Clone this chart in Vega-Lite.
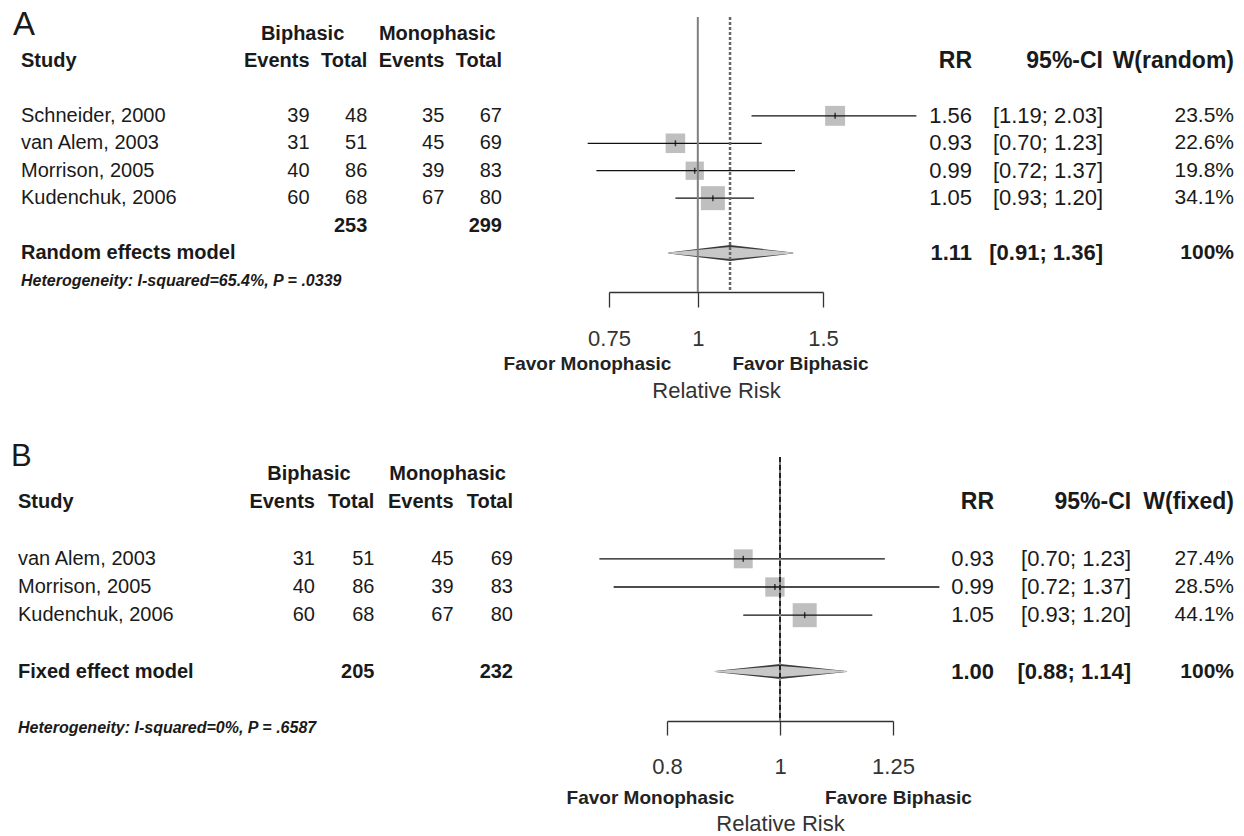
{
"$schema": "https://vega.github.io/schema/vega-lite/v6.json",
"autosize": {"type": "pad"},
"padding": {"left": 0, "top": 8, "right": 0, "bottom": 0},
"background": "white",
"bounds": "flush",
"spacing": 165,
"config": {"view": {"stroke": null}, "font": "Liberation Sans", "text": {"font": "Liberation Sans"}, "axis": {"grid": false, "labelFont": "Liberation Sans", "titleFont": "Liberation Sans"}},
"datasets": {
"A": [
{"study": "Schneider, 2000", "kind": "study", "bE": 39, "bT": 48, "mE": 35, "mT": 67, "rr": 1.56, "lo": 1.19, "hi": 2.03, "ci": "[1.19; 2.03]", "w": 0.235},
{"study": "van Alem, 2003", "kind": "study", "bE": 31, "bT": 51, "mE": 45, "mT": 69, "rr": 0.93, "lo": 0.70, "hi": 1.23, "ci": "[0.70; 1.23]", "w": 0.226},
{"study": "Morrison, 2005", "kind": "study", "bE": 40, "bT": 86, "mE": 39, "mT": 83, "rr": 0.99, "lo": 0.72, "hi": 1.37, "ci": "[0.72; 1.37]", "w": 0.198},
{"study": "Kudenchuk, 2006", "kind": "study", "bE": 60, "bT": 68, "mE": 67, "mT": 80, "rr": 1.05, "lo": 0.93, "hi": 1.20, "ci": "[0.93; 1.20]", "w": 0.341},
{"study": "Random effects model", "kind": "pooled", "bT": 253, "mT": 299, "rr": 1.11, "lo": 0.91, "hi": 1.36, "ci": "[0.91; 1.36]", "w": 1, "het": "Heterogeneity: I-squared=65.4%, P = .0339"}
],
"Ahead": [
{"hrow": "h1", "letter": "A", "bE": "Biphasic", "mE": "Monophasic"},
{"hrow": "h2", "study": "Study", "bE": "Events", "bT": "Total", "mE": "Events", "mT": "Total", "rr": "RR", "ci": "95%-CI", "w": "W(random)"}
],
"B": [
{"study": "van Alem, 2003", "kind": "study", "bE": 31, "bT": 51, "mE": 45, "mT": 69, "rr": 0.93, "lo": 0.70, "hi": 1.23, "ci": "[0.70; 1.23]", "w": 0.274},
{"study": "Morrison, 2005", "kind": "study", "bE": 40, "bT": 86, "mE": 39, "mT": 83, "rr": 0.99, "lo": 0.72, "hi": 1.37, "ci": "[0.72; 1.37]", "w": 0.285},
{"study": "Kudenchuk, 2006", "kind": "study", "bE": 60, "bT": 68, "mE": 67, "mT": 80, "rr": 1.05, "lo": 0.93, "hi": 1.20, "ci": "[0.93; 1.20]", "w": 0.441},
{"study": "Fixed effect model", "kind": "pooled", "bT": 205, "mT": 232, "rr": 1.00, "lo": 0.88, "hi": 1.14, "ci": "[0.88; 1.14]", "w": 1, "het": "Heterogeneity: I-squared=0%, P = .6587"}
],
"Bhead": [
{"hrow": "h1", "letter": "B", "bE": "Biphasic", "mE": "Monophasic"},
{"hrow": "h2", "study": "Study", "bE": "Events", "bT": "Total", "mE": "Events", "mT": "Total", "rr": "RR", "ci": "95%-CI", "w": "W(fixed)"}
]
},
"vconcat": [
{
"width": 1244, "height": 275,
"resolve": {"scale": {"x": "independent", "size": "independent"}, "axis": {"x": "independent"}},
"layer": [
{"data": {"name": "A"}, "transform": [{"filter": "datum.kind === 'study'"}],
 "mark": {"type": "square", "filled": true, "color": "#bfbfbf", "opacity": 1},
 "encoding": {
  "x": {"field": "rr", "type": "quantitative", "scale": {"type": "log", "domain": [0.75, 1.5], "range": [609, 823], "nice": false}, "axis": null},
  "y": {"field": "study", "type": "nominal", "scale": {"type": "point", "padding": 0, "domain": ["h1","h2","gap","Schneider, 2000","van Alem, 2003","Morrison, 2005","Kudenchuk, 2006","total","Random effects model","het"], "range": [16.5, 263.5]}, "axis": null},
  "size": {"field": "w", "type": "quantitative", "scale": {"domain": [0, 0.341], "range": [0, 576]}, "legend": null}}},
{"data": {"name": "A"}, "transform": [{"filter": "datum.kind === 'study'"}],
 "mark": {"type": "rule", "color": "#111111", "strokeWidth": 1.3},
 "encoding": {
  "x": {"field": "lo", "type": "quantitative", "scale": {"type": "log", "domain": [0.75, 1.5], "range": [609, 823], "nice": false},
        "axis": {"orient": "bottom", "values": [0.75, 1, 1.5], "format": "~g", "tickSize": 15, "tickWidth": 1.3, "tickColor": "#333333", "domainColor": "#333333", "domainWidth": 1.3, "labelFontSize": 22, "labelColor": "#333333", "labelPadding": 21, "labelFlush": false, "labelOverlap": false, "title": "Relative Risk", "titleFontSize": 22, "titleFontWeight": "normal", "titleColor": "#333333", "titlePadding": 31, "grid": false}},
  "x2": {"field": "hi"},
  "y": {"field": "study", "type": "nominal", "scale": {"type": "point", "padding": 0, "domain": ["h1","h2","gap","Schneider, 2000","van Alem, 2003","Morrison, 2005","Kudenchuk, 2006","total","Random effects model","het"], "range": [16.5, 263.5]}, "axis": null}}},
{"data": {"name": "A"}, "transform": [{"filter": "datum.kind === 'study'"}],
 "mark": {"type": "tick", "color": "#000000", "size": 6, "thickness": 1.5, "orient": "vertical"},
 "encoding": {
  "x": {"field": "rr", "type": "quantitative", "scale": {"type": "log", "domain": [0.75, 1.5], "range": [609, 823], "nice": false}, "axis": null},
  "y": {"field": "study", "type": "nominal", "scale": {"type": "point", "padding": 0, "domain": ["h1","h2","gap","Schneider, 2000","van Alem, 2003","Morrison, 2005","Kudenchuk, 2006","total","Random effects model","het"], "range": [16.5, 263.5]}, "axis": null}}},
{"data": {"name": "A"}, "transform": [{"filter": "datum.kind === 'pooled'"}, {"fold": ["lo", "rr", "hi"], "as": ["dk", "dv"]}],
 "mark": {"type": "trail", "color": "#3a3a3a"},
 "encoding": {
  "x": {"field": "dv", "type": "quantitative", "scale": {"type": "log", "domain": [0.75, 1.5], "range": [609, 823], "nice": false}, "axis": null},
  "y": {"field": "study", "type": "nominal", "scale": {"type": "point", "padding": 0, "domain": ["h1","h2","gap","Schneider, 2000","van Alem, 2003","Morrison, 2005","Kudenchuk, 2006","total","Random effects model","het"], "range": [16.5, 263.5]}, "axis": null},
  "order": {"field": "dv", "type": "quantitative"},
  "size": {"condition": {"test": "datum.dk === 'rr'", "value": 16}, "value": 0}}},
{"data": {"name": "A"}, "transform": [{"filter": "datum.kind === 'pooled'"}, {"fold": ["lo", "rr", "hi"], "as": ["dk", "dv"]}],
 "mark": {"type": "trail", "color": "#c8c8c8"},
 "encoding": {
  "x": {"field": "dv", "type": "quantitative", "scale": {"type": "log", "domain": [0.75, 1.5], "range": [609, 823], "nice": false}, "axis": null},
  "y": {"field": "study", "type": "nominal", "scale": {"type": "point", "padding": 0, "domain": ["h1","h2","gap","Schneider, 2000","van Alem, 2003","Morrison, 2005","Kudenchuk, 2006","total","Random effects model","het"], "range": [16.5, 263.5]}, "axis": null},
  "order": {"field": "dv", "type": "quantitative"},
  "size": {"condition": {"test": "datum.dk === 'rr'", "value": 12}, "value": 0}}},
{"data": {"name": "A"}, "transform": [{"filter": "datum.kind === 'pooled'"}],
 "mark": {"type": "rule", "color": "#808080", "strokeWidth": 2},
 "encoding": {"x": {"datum": 1, "type": "quantitative", "scale": {"type": "log", "domain": [0.75, 1.5], "range": [609, 823], "nice": false}, "axis": null}}},
{"data": {"name": "A"}, "transform": [{"filter": "datum.kind === 'pooled'"}],
 "mark": {"type": "rule", "color": "#666666", "strokeWidth": 2.5, "strokeDash": [3, 2]},
 "encoding": {"x": {"field": "rr", "type": "quantitative", "scale": {"type": "log", "domain": [0.75, 1.5], "range": [609, 823], "nice": false}, "axis": null}}},
{"data": {"values": [{"favor": "Favor Monophasic"}, {"favor": "Favor Biphasic"}]},
 "mark": {"type": "text", "text": ""},
 "encoding": {"x": {"field": "favor", "type": "nominal", "scale": {"type": "point", "padding": 0, "domain": ["Favor Monophasic", "Favor Biphasic"], "range": [587, 800]},
   "axis": {"orient": "bottom", "ticks": false, "domain": false, "tickSize": 0, "labelPadding": 62.6, "labelFontSize": 19, "labelFontWeight": "bold", "labelColor": "#222222", "labelAngle": 0, "title": null, "grid": false}}}},
{"data": {"name": "A"}, "transform": [{"filter": "datum.kind === 'study'"}],
 "mark": {"type": "text", "align": "left", "baseline": "middle", "fontSize": 20, "color": "#1a1a1a"},
 "encoding": {
  "x": {"datum": "study", "type": "nominal", "scale": {"type": "point", "padding": 0, "domain": ["study","s1","s2","s3","s4","s5","s6","s7","s8","s9","s10","s11","s12","s13","s14","bE","s16","s17","bT","s19","s20","s21","mE","s23","s24","mT"], "range": [21, 502]}, "axis": null},
  "y": {"field": "study", "type": "nominal", "scale": {"type": "point", "padding": 0, "domain": ["h1","h2","gap","Schneider, 2000","van Alem, 2003","Morrison, 2005","Kudenchuk, 2006","total","Random effects model","het"], "range": [16.5, 263.5]}, "axis": null},
  "text": {"field": "study", "type": "nominal"}}},
{"data": {"name": "A"}, "transform": [{"filter": "datum.kind === 'pooled'"}],
 "mark": {"type": "text", "align": "left", "baseline": "middle", "fontSize": 20, "fontWeight": "bold", "color": "#1a1a1a"},
 "encoding": {
  "x": {"datum": "study", "type": "nominal", "scale": {"type": "point", "padding": 0, "domain": ["study","s1","s2","s3","s4","s5","s6","s7","s8","s9","s10","s11","s12","s13","s14","bE","s16","s17","bT","s19","s20","s21","mE","s23","s24","mT"], "range": [21, 502]}, "axis": null},
  "y": {"field": "study", "type": "nominal", "scale": {"type": "point", "padding": 0, "domain": ["h1","h2","gap","Schneider, 2000","van Alem, 2003","Morrison, 2005","Kudenchuk, 2006","total","Random effects model","het"], "range": [16.5, 263.5]}, "axis": null},
  "text": {"field": "study", "type": "nominal"}}},
{"data": {"name": "A"}, "transform": [{"filter": "datum.kind === 'pooled'"}],
 "mark": {"type": "text", "align": "left", "baseline": "middle", "fontSize": 16, "fontWeight": "bold", "fontStyle": "italic", "color": "#1a1a1a"},
 "encoding": {
  "x": {"datum": "study", "type": "nominal", "scale": {"type": "point", "padding": 0, "domain": ["study","s1","s2","s3","s4","s5","s6","s7","s8","s9","s10","s11","s12","s13","s14","bE","s16","s17","bT","s19","s20","s21","mE","s23","s24","mT"], "range": [21, 502]}, "axis": null},
  "y": {"datum": "het", "type": "nominal", "scale": {"type": "point", "padding": 0, "domain": ["h1","h2","gap","Schneider, 2000","van Alem, 2003","Morrison, 2005","Kudenchuk, 2006","total","Random effects model","het"], "range": [16.5, 263.5]}, "axis": null},
  "text": {"field": "het", "type": "nominal"}}},
{"data": {"name": "A"}, "transform": [{"filter": "datum.kind === 'study'"}, {"fold": ["bE", "bT", "mE", "mT"], "as": ["col", "val"]}],
 "mark": {"type": "text", "align": "right", "baseline": "middle", "fontSize": 20, "color": "#1a1a1a"},
 "encoding": {
  "x": {"field": "col", "type": "nominal", "scale": {"type": "point", "padding": 0, "domain": ["study","s1","s2","s3","s4","s5","s6","s7","s8","s9","s10","s11","s12","s13","s14","bE","s16","s17","bT","s19","s20","s21","mE","s23","s24","mT"], "range": [21, 502]}, "axis": null},
  "y": {"field": "study", "type": "nominal", "scale": {"type": "point", "padding": 0, "domain": ["h1","h2","gap","Schneider, 2000","van Alem, 2003","Morrison, 2005","Kudenchuk, 2006","total","Random effects model","het"], "range": [16.5, 263.5]}, "axis": null},
  "text": {"field": "val", "type": "nominal"}}},
{"data": {"name": "A"}, "transform": [{"filter": "datum.kind === 'pooled'"}, {"fold": ["bT", "mT"], "as": ["col", "val"]}],
 "mark": {"type": "text", "align": "right", "baseline": "middle", "fontSize": 20, "fontWeight": "bold", "color": "#1a1a1a"},
 "encoding": {
  "x": {"field": "col", "type": "nominal", "scale": {"type": "point", "padding": 0, "domain": ["study","s1","s2","s3","s4","s5","s6","s7","s8","s9","s10","s11","s12","s13","s14","bE","s16","s17","bT","s19","s20","s21","mE","s23","s24","mT"], "range": [21, 502]}, "axis": null},
  "y": {"datum": "total", "type": "nominal", "scale": {"type": "point", "padding": 0, "domain": ["h1","h2","gap","Schneider, 2000","van Alem, 2003","Morrison, 2005","Kudenchuk, 2006","total","Random effects model","het"], "range": [16.5, 263.5]}, "axis": null},
  "text": {"field": "val", "type": "nominal"}}},
{"data": {"name": "A"}, "transform": [{"filter": "datum.kind === 'study'"}],
 "mark": {"type": "text", "align": "right", "baseline": "middle", "fontSize": 22, "color": "#1a1a1a"},
 "encoding": {
  "x": {"datum": "rr", "type": "nominal", "scale": {"type": "point", "padding": 0, "domain": ["rr", "ci", "w"], "range": [972, 1234]}, "axis": null},
  "y": {"field": "study", "type": "nominal", "scale": {"type": "point", "padding": 0, "domain": ["h1","h2","gap","Schneider, 2000","van Alem, 2003","Morrison, 2005","Kudenchuk, 2006","total","Random effects model","het"], "range": [16.5, 263.5]}, "axis": null},
  "text": {"field": "rr", "type": "quantitative", "format": ".2f"}}},
{"data": {"name": "A"}, "transform": [{"filter": "datum.kind === 'study'"}],
 "mark": {"type": "text", "align": "right", "baseline": "middle", "fontSize": 22, "color": "#1a1a1a"},
 "encoding": {
  "x": {"datum": "ci", "type": "nominal", "scale": {"type": "point", "padding": 0, "domain": ["rr", "ci", "w"], "range": [972, 1234]}, "axis": null},
  "y": {"field": "study", "type": "nominal", "scale": {"type": "point", "padding": 0, "domain": ["h1","h2","gap","Schneider, 2000","van Alem, 2003","Morrison, 2005","Kudenchuk, 2006","total","Random effects model","het"], "range": [16.5, 263.5]}, "axis": null},
  "text": {"field": "ci", "type": "nominal"}}},
{"data": {"name": "A"}, "transform": [{"filter": "datum.kind === 'study'"}],
 "mark": {"type": "text", "align": "right", "baseline": "middle", "fontSize": 21, "color": "#1a1a1a"},
 "encoding": {
  "x": {"datum": "w", "type": "nominal", "scale": {"type": "point", "padding": 0, "domain": ["rr", "ci", "w"], "range": [972, 1234]}, "axis": null},
  "y": {"field": "study", "type": "nominal", "scale": {"type": "point", "padding": 0, "domain": ["h1","h2","gap","Schneider, 2000","van Alem, 2003","Morrison, 2005","Kudenchuk, 2006","total","Random effects model","het"], "range": [16.5, 263.5]}, "axis": null},
  "text": {"field": "w", "type": "quantitative", "format": ".1~%"}}},
{"data": {"name": "A"}, "transform": [{"filter": "datum.kind === 'pooled'"}],
 "mark": {"type": "text", "align": "right", "baseline": "middle", "fontSize": 22, "fontWeight": "bold", "color": "#1a1a1a"},
 "encoding": {
  "x": {"datum": "rr", "type": "nominal", "scale": {"type": "point", "padding": 0, "domain": ["rr", "ci", "w"], "range": [972, 1234]}, "axis": null},
  "y": {"field": "study", "type": "nominal", "scale": {"type": "point", "padding": 0, "domain": ["h1","h2","gap","Schneider, 2000","van Alem, 2003","Morrison, 2005","Kudenchuk, 2006","total","Random effects model","het"], "range": [16.5, 263.5]}, "axis": null},
  "text": {"field": "rr", "type": "quantitative", "format": ".2f"}}},
{"data": {"name": "A"}, "transform": [{"filter": "datum.kind === 'pooled'"}],
 "mark": {"type": "text", "align": "right", "baseline": "middle", "fontSize": 22, "fontWeight": "bold", "color": "#1a1a1a"},
 "encoding": {
  "x": {"datum": "ci", "type": "nominal", "scale": {"type": "point", "padding": 0, "domain": ["rr", "ci", "w"], "range": [972, 1234]}, "axis": null},
  "y": {"field": "study", "type": "nominal", "scale": {"type": "point", "padding": 0, "domain": ["h1","h2","gap","Schneider, 2000","van Alem, 2003","Morrison, 2005","Kudenchuk, 2006","total","Random effects model","het"], "range": [16.5, 263.5]}, "axis": null},
  "text": {"field": "ci", "type": "nominal"}}},
{"data": {"name": "A"}, "transform": [{"filter": "datum.kind === 'pooled'"}],
 "mark": {"type": "text", "align": "right", "baseline": "middle", "fontSize": 21, "fontWeight": "bold", "color": "#1a1a1a"},
 "encoding": {
  "x": {"datum": "w", "type": "nominal", "scale": {"type": "point", "padding": 0, "domain": ["rr", "ci", "w"], "range": [972, 1234]}, "axis": null},
  "y": {"field": "study", "type": "nominal", "scale": {"type": "point", "padding": 0, "domain": ["h1","h2","gap","Schneider, 2000","van Alem, 2003","Morrison, 2005","Kudenchuk, 2006","total","Random effects model","het"], "range": [16.5, 263.5]}, "axis": null},
  "text": {"field": "w", "type": "quantitative", "format": ".1~%"}}},
{"data": {"name": "Ahead"}, "transform": [{"filter": "datum.hrow === 'h2'"}],
 "mark": {"type": "text", "align": "left", "baseline": "middle", "fontSize": 20, "fontWeight": "bold", "color": "#1a1a1a"},
 "encoding": {
  "x": {"datum": "study", "type": "nominal", "scale": {"type": "point", "padding": 0, "domain": ["study","s1","s2","s3","s4","s5","s6","s7","s8","s9","s10","s11","s12","s13","s14","bE","s16","s17","bT","s19","s20","s21","mE","s23","s24","mT"], "range": [21, 502]}, "axis": null},
  "y": {"field": "hrow", "type": "nominal", "scale": {"type": "point", "padding": 0, "domain": ["h1","h2","gap","Schneider, 2000","van Alem, 2003","Morrison, 2005","Kudenchuk, 2006","total","Random effects model","het"], "range": [16.5, 263.5]}, "axis": null},
  "text": {"field": "study", "type": "nominal"}}},
{"data": {"name": "Ahead"}, "transform": [{"filter": "datum.hrow === 'h2'"}, {"fold": ["bE", "bT", "mE", "mT"], "as": ["col", "val"]}],
 "mark": {"type": "text", "align": "right", "baseline": "middle", "fontSize": 20, "fontWeight": "bold", "color": "#1a1a1a"},
 "encoding": {
  "x": {"field": "col", "type": "nominal", "scale": {"type": "point", "padding": 0, "domain": ["study","s1","s2","s3","s4","s5","s6","s7","s8","s9","s10","s11","s12","s13","s14","bE","s16","s17","bT","s19","s20","s21","mE","s23","s24","mT"], "range": [21, 502]}, "axis": null},
  "y": {"field": "hrow", "type": "nominal", "scale": {"type": "point", "padding": 0, "domain": ["h1","h2","gap","Schneider, 2000","van Alem, 2003","Morrison, 2005","Kudenchuk, 2006","total","Random effects model","het"], "range": [16.5, 263.5]}, "axis": null},
  "text": {"field": "val", "type": "nominal"}}},
{"data": {"name": "Ahead"}, "transform": [{"filter": "datum.hrow === 'h2'"}, {"fold": ["rr", "ci", "w"], "as": ["col", "val"]}],
 "mark": {"type": "text", "align": "right", "baseline": "middle", "fontSize": 23, "fontWeight": "bold", "color": "#1a1a1a"},
 "encoding": {
  "x": {"field": "col", "type": "nominal", "scale": {"type": "point", "padding": 0, "domain": ["rr", "ci", "w"], "range": [972, 1234]}, "axis": null},
  "y": {"field": "hrow", "type": "nominal", "scale": {"type": "point", "padding": 0, "domain": ["h1","h2","gap","Schneider, 2000","van Alem, 2003","Morrison, 2005","Kudenchuk, 2006","total","Random effects model","het"], "range": [16.5, 263.5]}, "axis": null},
  "text": {"field": "val", "type": "nominal"}}},
{"data": {"name": "Ahead"}, "transform": [{"filter": "datum.hrow === 'h1'"}, {"fold": ["bE", "mE"], "as": ["col", "val"]}],
 "mark": {"type": "text", "align": "center", "baseline": "middle", "fontSize": 20, "fontWeight": "bold", "color": "#1a1a1a", "dx": -7},
 "encoding": {
  "x": {"field": "col", "type": "nominal", "scale": {"type": "point", "padding": 0, "domain": ["study","s1","s2","s3","s4","s5","s6","s7","s8","s9","s10","s11","s12","s13","s14","bE","s16","s17","bT","s19","s20","s21","mE","s23","s24","mT"], "range": [21, 502]}, "axis": null},
  "y": {"field": "hrow", "type": "nominal", "scale": {"type": "point", "padding": 0, "domain": ["h1","h2","gap","Schneider, 2000","van Alem, 2003","Morrison, 2005","Kudenchuk, 2006","total","Random effects model","het"], "range": [16.5, 263.5]}, "axis": null},
  "text": {"field": "val", "type": "nominal"}}},
{"data": {"name": "Ahead"}, "transform": [{"filter": "datum.hrow === 'h1'"}],
 "mark": {"type": "text", "align": "left", "baseline": "alphabetic", "fontSize": 33, "color": "#1a1a1a", "dx": -8, "dy": 1},
 "encoding": {
  "x": {"datum": "study", "type": "nominal", "scale": {"type": "point", "padding": 0, "domain": ["study","s1","s2","s3","s4","s5","s6","s7","s8","s9","s10","s11","s12","s13","s14","bE","s16","s17","bT","s19","s20","s21","mE","s23","s24","mT"], "range": [21, 502]}, "axis": null},
  "y": {"field": "hrow", "type": "nominal", "scale": {"type": "point", "padding": 0, "domain": ["h1","h2","gap","Schneider, 2000","van Alem, 2003","Morrison, 2005","Kudenchuk, 2006","total","Random effects model","het"], "range": [16.5, 263.5]}, "axis": null},
  "text": {"field": "letter", "type": "nominal"}}}
]
},
{
"width": 1244, "height": 264,
"resolve": {"scale": {"x": "independent", "size": "independent"}, "axis": {"x": "independent"}},
"layer": [
{"data": {"name": "B"}, "transform": [{"filter": "datum.kind === 'study'"}],
 "mark": {"type": "square", "filled": true, "color": "#bfbfbf", "opacity": 1},
 "encoding": {
  "x": {"field": "rr", "type": "quantitative", "scale": {"type": "log", "domain": [0.8, 1.25], "range": [667, 893], "nice": false}, "axis": null},
  "y": {"field": "study", "type": "nominal", "scale": {"type": "point", "padding": 0, "domain": ["h1","h2","gap1","van Alem, 2003","Morrison, 2005","Kudenchuk, 2006","gap2","Fixed effect model","gap3","het"], "range": [17.3, 270.9]}, "axis": null},
  "size": {"field": "w", "type": "quantitative", "scale": {"domain": [0, 0.441], "range": [0, 576]}, "legend": null}}},
{"data": {"name": "B"}, "transform": [{"filter": "datum.kind === 'study'"}],
 "mark": {"type": "rule", "color": "#111111", "strokeWidth": 1.3},
 "encoding": {
  "x": {"field": "lo", "type": "quantitative", "scale": {"type": "log", "domain": [0.8, 1.25], "range": [667, 893], "nice": false},
        "axis": {"orient": "bottom", "values": [0.8, 1, 1.25], "format": "~g", "tickSize": 14, "tickWidth": 1.3, "tickColor": "#333333", "domainColor": "#333333", "domainWidth": 1.3, "labelFontSize": 22, "labelColor": "#333333", "labelPadding": 21, "labelFlush": false, "labelOverlap": false, "title": "Relative Risk", "titleFontSize": 22, "titleFontWeight": "normal", "titleColor": "#333333", "titlePadding": 36, "grid": false}},
  "x2": {"field": "hi"},
  "y": {"field": "study", "type": "nominal", "scale": {"type": "point", "padding": 0, "domain": ["h1","h2","gap1","van Alem, 2003","Morrison, 2005","Kudenchuk, 2006","gap2","Fixed effect model","gap3","het"], "range": [17.3, 270.9]}, "axis": null}}},
{"data": {"name": "B"}, "transform": [{"filter": "datum.kind === 'study'"}],
 "mark": {"type": "tick", "color": "#000000", "size": 6, "thickness": 1.5, "orient": "vertical"},
 "encoding": {
  "x": {"field": "rr", "type": "quantitative", "scale": {"type": "log", "domain": [0.8, 1.25], "range": [667, 893], "nice": false}, "axis": null},
  "y": {"field": "study", "type": "nominal", "scale": {"type": "point", "padding": 0, "domain": ["h1","h2","gap1","van Alem, 2003","Morrison, 2005","Kudenchuk, 2006","gap2","Fixed effect model","gap3","het"], "range": [17.3, 270.9]}, "axis": null}}},
{"data": {"name": "B"}, "transform": [{"filter": "datum.kind === 'pooled'"}, {"fold": ["lo", "rr", "hi"], "as": ["dk", "dv"]}],
 "mark": {"type": "trail", "color": "#3a3a3a"},
 "encoding": {
  "x": {"field": "dv", "type": "quantitative", "scale": {"type": "log", "domain": [0.8, 1.25], "range": [667, 893], "nice": false}, "axis": null},
  "y": {"field": "study", "type": "nominal", "scale": {"type": "point", "padding": 0, "domain": ["h1","h2","gap1","van Alem, 2003","Morrison, 2005","Kudenchuk, 2006","gap2","Fixed effect model","gap3","het"], "range": [17.3, 270.9]}, "axis": null},
  "order": {"field": "dv", "type": "quantitative"},
  "size": {"condition": {"test": "datum.dk === 'rr'", "value": 15}, "value": 0}}},
{"data": {"name": "B"}, "transform": [{"filter": "datum.kind === 'pooled'"}, {"fold": ["lo", "rr", "hi"], "as": ["dk", "dv"]}],
 "mark": {"type": "trail", "color": "#c8c8c8"},
 "encoding": {
  "x": {"field": "dv", "type": "quantitative", "scale": {"type": "log", "domain": [0.8, 1.25], "range": [667, 893], "nice": false}, "axis": null},
  "y": {"field": "study", "type": "nominal", "scale": {"type": "point", "padding": 0, "domain": ["h1","h2","gap1","van Alem, 2003","Morrison, 2005","Kudenchuk, 2006","gap2","Fixed effect model","gap3","het"], "range": [17.3, 270.9]}, "axis": null},
  "order": {"field": "dv", "type": "quantitative"},
  "size": {"condition": {"test": "datum.dk === 'rr'", "value": 11}, "value": 0}}},
{"data": {"name": "B"}, "transform": [{"filter": "datum.kind === 'pooled'"}],
 "mark": {"type": "rule", "color": "#808080", "strokeWidth": 2},
 "encoding": {"x": {"datum": 1, "type": "quantitative", "scale": {"type": "log", "domain": [0.8, 1.25], "range": [667, 893], "nice": false}, "axis": null}}},
{"data": {"name": "B"}, "transform": [{"filter": "datum.kind === 'pooled'"}],
 "mark": {"type": "rule", "color": "#222222", "strokeWidth": 2, "strokeDash": [5, 3]},
 "encoding": {"x": {"field": "rr", "type": "quantitative", "scale": {"type": "log", "domain": [0.8, 1.25], "range": [667, 893], "nice": false}, "axis": null}}},
{"data": {"values": [{"favor": "Favor Monophasic"}, {"favor": "Favore Biphasic"}]},
 "mark": {"type": "text", "text": ""},
 "encoding": {"x": {"field": "favor", "type": "nominal", "scale": {"type": "point", "padding": 0, "domain": ["Favor Monophasic", "Favore Biphasic"], "range": [650, 898]},
   "axis": {"orient": "bottom", "ticks": false, "domain": false, "tickSize": 0, "labelPadding": 67.6, "labelFontSize": 19, "labelFontWeight": "bold", "labelColor": "#222222", "labelAngle": 0, "title": null, "grid": false}}}},
{"data": {"name": "B"}, "transform": [{"filter": "datum.kind === 'study'"}],
 "mark": {"type": "text", "align": "left", "baseline": "middle", "fontSize": 20, "color": "#1a1a1a"},
 "encoding": {
  "x": {"datum": "study", "type": "nominal", "scale": {"type": "point", "padding": 0, "domain": ["study","s1","s2","s3","s4","s5","s6","s7","s8","s9","s10","s11","s12","s13","s14","bE","s16","s17","bT","s19","s20","s21","mE","s23","s24","mT"], "range": [18, 513]}, "axis": null},
  "y": {"field": "study", "type": "nominal", "scale": {"type": "point", "padding": 0, "domain": ["h1","h2","gap1","van Alem, 2003","Morrison, 2005","Kudenchuk, 2006","gap2","Fixed effect model","gap3","het"], "range": [17.3, 270.9]}, "axis": null},
  "text": {"field": "study", "type": "nominal"}}},
{"data": {"name": "B"}, "transform": [{"filter": "datum.kind === 'pooled'"}],
 "mark": {"type": "text", "align": "left", "baseline": "middle", "fontSize": 20, "fontWeight": "bold", "color": "#1a1a1a"},
 "encoding": {
  "x": {"datum": "study", "type": "nominal", "scale": {"type": "point", "padding": 0, "domain": ["study","s1","s2","s3","s4","s5","s6","s7","s8","s9","s10","s11","s12","s13","s14","bE","s16","s17","bT","s19","s20","s21","mE","s23","s24","mT"], "range": [18, 513]}, "axis": null},
  "y": {"field": "study", "type": "nominal", "scale": {"type": "point", "padding": 0, "domain": ["h1","h2","gap1","van Alem, 2003","Morrison, 2005","Kudenchuk, 2006","gap2","Fixed effect model","gap3","het"], "range": [17.3, 270.9]}, "axis": null},
  "text": {"field": "study", "type": "nominal"}}},
{"data": {"name": "B"}, "transform": [{"filter": "datum.kind === 'pooled'"}],
 "mark": {"type": "text", "align": "left", "baseline": "middle", "fontSize": 16, "fontWeight": "bold", "fontStyle": "italic", "color": "#1a1a1a"},
 "encoding": {
  "x": {"datum": "study", "type": "nominal", "scale": {"type": "point", "padding": 0, "domain": ["study","s1","s2","s3","s4","s5","s6","s7","s8","s9","s10","s11","s12","s13","s14","bE","s16","s17","bT","s19","s20","s21","mE","s23","s24","mT"], "range": [18, 513]}, "axis": null},
  "y": {"datum": "het", "type": "nominal", "scale": {"type": "point", "padding": 0, "domain": ["h1","h2","gap1","van Alem, 2003","Morrison, 2005","Kudenchuk, 2006","gap2","Fixed effect model","gap3","het"], "range": [17.3, 270.9]}, "axis": null},
  "text": {"field": "het", "type": "nominal"}}},
{"data": {"name": "B"}, "transform": [{"filter": "datum.kind === 'study'"}, {"fold": ["bE", "bT", "mE", "mT"], "as": ["col", "val"]}],
 "mark": {"type": "text", "align": "right", "baseline": "middle", "fontSize": 20, "color": "#1a1a1a"},
 "encoding": {
  "x": {"field": "col", "type": "nominal", "scale": {"type": "point", "padding": 0, "domain": ["study","s1","s2","s3","s4","s5","s6","s7","s8","s9","s10","s11","s12","s13","s14","bE","s16","s17","bT","s19","s20","s21","mE","s23","s24","mT"], "range": [18, 513]}, "axis": null},
  "y": {"field": "study", "type": "nominal", "scale": {"type": "point", "padding": 0, "domain": ["h1","h2","gap1","van Alem, 2003","Morrison, 2005","Kudenchuk, 2006","gap2","Fixed effect model","gap3","het"], "range": [17.3, 270.9]}, "axis": null},
  "text": {"field": "val", "type": "nominal"}}},
{"data": {"name": "B"}, "transform": [{"filter": "datum.kind === 'pooled'"}, {"fold": ["bT", "mT"], "as": ["col", "val"]}],
 "mark": {"type": "text", "align": "right", "baseline": "middle", "fontSize": 20, "fontWeight": "bold", "color": "#1a1a1a"},
 "encoding": {
  "x": {"field": "col", "type": "nominal", "scale": {"type": "point", "padding": 0, "domain": ["study","s1","s2","s3","s4","s5","s6","s7","s8","s9","s10","s11","s12","s13","s14","bE","s16","s17","bT","s19","s20","s21","mE","s23","s24","mT"], "range": [18, 513]}, "axis": null},
  "y": {"field": "study", "type": "nominal", "scale": {"type": "point", "padding": 0, "domain": ["h1","h2","gap1","van Alem, 2003","Morrison, 2005","Kudenchuk, 2006","gap2","Fixed effect model","gap3","het"], "range": [17.3, 270.9]}, "axis": null},
  "text": {"field": "val", "type": "nominal"}}},
{"data": {"name": "B"}, "transform": [{"filter": "datum.kind === 'study'"}],
 "mark": {"type": "text", "align": "right", "baseline": "middle", "fontSize": 22, "color": "#1a1a1a"},
 "encoding": {
  "x": {"datum": "rr", "type": "nominal", "scale": {"type": "point", "padding": 0, "domain": ["rr","t1","t2","t3","ci","t5","t6","w"], "range": [994, 1234]}, "axis": null},
  "y": {"field": "study", "type": "nominal", "scale": {"type": "point", "padding": 0, "domain": ["h1","h2","gap1","van Alem, 2003","Morrison, 2005","Kudenchuk, 2006","gap2","Fixed effect model","gap3","het"], "range": [17.3, 270.9]}, "axis": null},
  "text": {"field": "rr", "type": "quantitative", "format": ".2f"}}},
{"data": {"name": "B"}, "transform": [{"filter": "datum.kind === 'study'"}],
 "mark": {"type": "text", "align": "right", "baseline": "middle", "fontSize": 22, "color": "#1a1a1a"},
 "encoding": {
  "x": {"datum": "ci", "type": "nominal", "scale": {"type": "point", "padding": 0, "domain": ["rr","t1","t2","t3","ci","t5","t6","w"], "range": [994, 1234]}, "axis": null},
  "y": {"field": "study", "type": "nominal", "scale": {"type": "point", "padding": 0, "domain": ["h1","h2","gap1","van Alem, 2003","Morrison, 2005","Kudenchuk, 2006","gap2","Fixed effect model","gap3","het"], "range": [17.3, 270.9]}, "axis": null},
  "text": {"field": "ci", "type": "nominal"}}},
{"data": {"name": "B"}, "transform": [{"filter": "datum.kind === 'study'"}],
 "mark": {"type": "text", "align": "right", "baseline": "middle", "fontSize": 21, "color": "#1a1a1a"},
 "encoding": {
  "x": {"datum": "w", "type": "nominal", "scale": {"type": "point", "padding": 0, "domain": ["rr","t1","t2","t3","ci","t5","t6","w"], "range": [994, 1234]}, "axis": null},
  "y": {"field": "study", "type": "nominal", "scale": {"type": "point", "padding": 0, "domain": ["h1","h2","gap1","van Alem, 2003","Morrison, 2005","Kudenchuk, 2006","gap2","Fixed effect model","gap3","het"], "range": [17.3, 270.9]}, "axis": null},
  "text": {"field": "w", "type": "quantitative", "format": ".1~%"}}},
{"data": {"name": "B"}, "transform": [{"filter": "datum.kind === 'pooled'"}],
 "mark": {"type": "text", "align": "right", "baseline": "middle", "fontSize": 22, "fontWeight": "bold", "color": "#1a1a1a"},
 "encoding": {
  "x": {"datum": "rr", "type": "nominal", "scale": {"type": "point", "padding": 0, "domain": ["rr","t1","t2","t3","ci","t5","t6","w"], "range": [994, 1234]}, "axis": null},
  "y": {"field": "study", "type": "nominal", "scale": {"type": "point", "padding": 0, "domain": ["h1","h2","gap1","van Alem, 2003","Morrison, 2005","Kudenchuk, 2006","gap2","Fixed effect model","gap3","het"], "range": [17.3, 270.9]}, "axis": null},
  "text": {"field": "rr", "type": "quantitative", "format": ".2f"}}},
{"data": {"name": "B"}, "transform": [{"filter": "datum.kind === 'pooled'"}],
 "mark": {"type": "text", "align": "right", "baseline": "middle", "fontSize": 22, "fontWeight": "bold", "color": "#1a1a1a"},
 "encoding": {
  "x": {"datum": "ci", "type": "nominal", "scale": {"type": "point", "padding": 0, "domain": ["rr","t1","t2","t3","ci","t5","t6","w"], "range": [994, 1234]}, "axis": null},
  "y": {"field": "study", "type": "nominal", "scale": {"type": "point", "padding": 0, "domain": ["h1","h2","gap1","van Alem, 2003","Morrison, 2005","Kudenchuk, 2006","gap2","Fixed effect model","gap3","het"], "range": [17.3, 270.9]}, "axis": null},
  "text": {"field": "ci", "type": "nominal"}}},
{"data": {"name": "B"}, "transform": [{"filter": "datum.kind === 'pooled'"}],
 "mark": {"type": "text", "align": "right", "baseline": "middle", "fontSize": 21, "fontWeight": "bold", "color": "#1a1a1a"},
 "encoding": {
  "x": {"datum": "w", "type": "nominal", "scale": {"type": "point", "padding": 0, "domain": ["rr","t1","t2","t3","ci","t5","t6","w"], "range": [994, 1234]}, "axis": null},
  "y": {"field": "study", "type": "nominal", "scale": {"type": "point", "padding": 0, "domain": ["h1","h2","gap1","van Alem, 2003","Morrison, 2005","Kudenchuk, 2006","gap2","Fixed effect model","gap3","het"], "range": [17.3, 270.9]}, "axis": null},
  "text": {"field": "w", "type": "quantitative", "format": ".1~%"}}},
{"data": {"name": "Bhead"}, "transform": [{"filter": "datum.hrow === 'h2'"}],
 "mark": {"type": "text", "align": "left", "baseline": "middle", "fontSize": 20, "fontWeight": "bold", "color": "#1a1a1a"},
 "encoding": {
  "x": {"datum": "study", "type": "nominal", "scale": {"type": "point", "padding": 0, "domain": ["study","s1","s2","s3","s4","s5","s6","s7","s8","s9","s10","s11","s12","s13","s14","bE","s16","s17","bT","s19","s20","s21","mE","s23","s24","mT"], "range": [18, 513]}, "axis": null},
  "y": {"field": "hrow", "type": "nominal", "scale": {"type": "point", "padding": 0, "domain": ["h1","h2","gap1","van Alem, 2003","Morrison, 2005","Kudenchuk, 2006","gap2","Fixed effect model","gap3","het"], "range": [17.3, 270.9]}, "axis": null},
  "text": {"field": "study", "type": "nominal"}}},
{"data": {"name": "Bhead"}, "transform": [{"filter": "datum.hrow === 'h2'"}, {"fold": ["bE", "bT", "mE", "mT"], "as": ["col", "val"]}],
 "mark": {"type": "text", "align": "right", "baseline": "middle", "fontSize": 20, "fontWeight": "bold", "color": "#1a1a1a"},
 "encoding": {
  "x": {"field": "col", "type": "nominal", "scale": {"type": "point", "padding": 0, "domain": ["study","s1","s2","s3","s4","s5","s6","s7","s8","s9","s10","s11","s12","s13","s14","bE","s16","s17","bT","s19","s20","s21","mE","s23","s24","mT"], "range": [18, 513]}, "axis": null},
  "y": {"field": "hrow", "type": "nominal", "scale": {"type": "point", "padding": 0, "domain": ["h1","h2","gap1","van Alem, 2003","Morrison, 2005","Kudenchuk, 2006","gap2","Fixed effect model","gap3","het"], "range": [17.3, 270.9]}, "axis": null},
  "text": {"field": "val", "type": "nominal"}}},
{"data": {"name": "Bhead"}, "transform": [{"filter": "datum.hrow === 'h2'"}, {"fold": ["rr", "ci", "w"], "as": ["col", "val"]}],
 "mark": {"type": "text", "align": "right", "baseline": "middle", "fontSize": 23, "fontWeight": "bold", "color": "#1a1a1a"},
 "encoding": {
  "x": {"field": "col", "type": "nominal", "scale": {"type": "point", "padding": 0, "domain": ["rr","t1","t2","t3","ci","t5","t6","w"], "range": [994, 1234]}, "axis": null},
  "y": {"field": "hrow", "type": "nominal", "scale": {"type": "point", "padding": 0, "domain": ["h1","h2","gap1","van Alem, 2003","Morrison, 2005","Kudenchuk, 2006","gap2","Fixed effect model","gap3","het"], "range": [17.3, 270.9]}, "axis": null},
  "text": {"field": "val", "type": "nominal"}}},
{"data": {"name": "Bhead"}, "transform": [{"filter": "datum.hrow === 'h1'"}, {"fold": ["bE", "mE"], "as": ["col", "val"]}],
 "mark": {"type": "text", "align": "center", "baseline": "middle", "fontSize": 20, "fontWeight": "bold", "color": "#1a1a1a", "dx": -6},
 "encoding": {
  "x": {"field": "col", "type": "nominal", "scale": {"type": "point", "padding": 0, "domain": ["study","s1","s2","s3","s4","s5","s6","s7","s8","s9","s10","s11","s12","s13","s14","bE","s16","s17","bT","s19","s20","s21","mE","s23","s24","mT"], "range": [18, 513]}, "axis": null},
  "y": {"field": "hrow", "type": "nominal", "scale": {"type": "point", "padding": 0, "domain": ["h1","h2","gap1","van Alem, 2003","Morrison, 2005","Kudenchuk, 2006","gap2","Fixed effect model","gap3","het"], "range": [17.3, 270.9]}, "axis": null},
  "text": {"field": "val", "type": "nominal"}}},
{"data": {"name": "Bhead"}, "transform": [{"filter": "datum.hrow === 'h1'"}],
 "mark": {"type": "text", "align": "left", "baseline": "alphabetic", "fontSize": 31, "color": "#1a1a1a", "dx": -7, "dy": -8},
 "encoding": {
  "x": {"datum": "study", "type": "nominal", "scale": {"type": "point", "padding": 0, "domain": ["study","s1","s2","s3","s4","s5","s6","s7","s8","s9","s10","s11","s12","s13","s14","bE","s16","s17","bT","s19","s20","s21","mE","s23","s24","mT"], "range": [18, 513]}, "axis": null},
  "y": {"field": "hrow", "type": "nominal", "scale": {"type": "point", "padding": 0, "domain": ["h1","h2","gap1","van Alem, 2003","Morrison, 2005","Kudenchuk, 2006","gap2","Fixed effect model","gap3","het"], "range": [17.3, 270.9]}, "axis": null},
  "text": {"field": "letter", "type": "nominal"}}}
]
}
]
}
